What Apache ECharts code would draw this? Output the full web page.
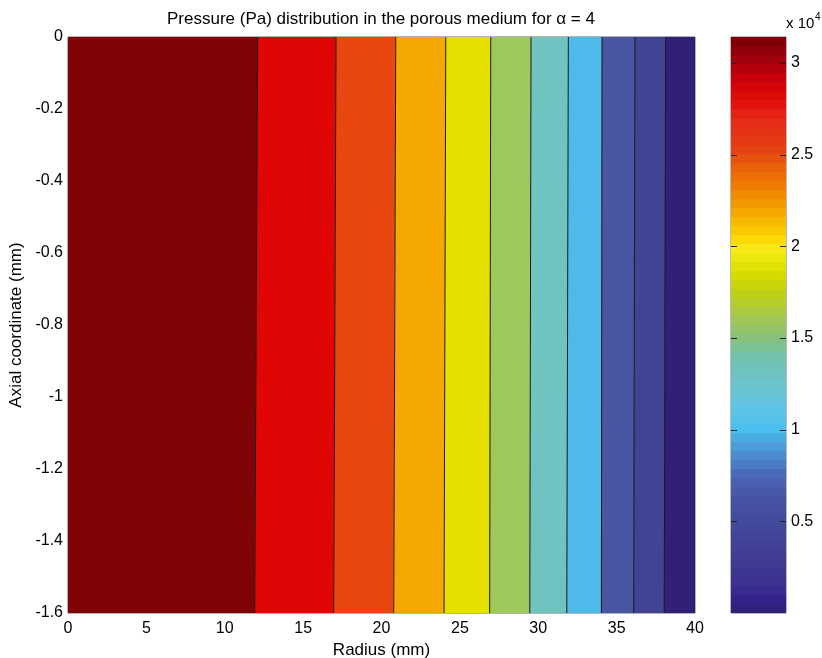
<!DOCTYPE html>
<html>
<head>
<meta charset="utf-8">
<script src="https://cdn.jsdelivr.net/npm/echarts@6/dist/echarts.min.js"></script>
<style>
  html, body { margin: 0; padding: 0; background: #ffffff; }
  #chart { width: 822px; height: 658px; }
</style>
</head>
<body>
<div id="chart"></div>
<script>
// ---- Data -------------------------------------------------------------
// Isobars (Pa), ordered from the axis (r = 0) outwards
const isobarLevels = [28560, 25704, 22848, 19992, 17136, 14280, 11424, 8568, 5712, 2856];
// Radius (mm) where each isobar meets the top face (z = 0)
const isobarRadiusTop = [12.10, 17.10, 20.91, 24.10, 26.97, 29.54, 31.92, 34.07, 36.17, 38.13];
// Radius (mm) where each isobar meets the bottom face (z = -1.6)
const isobarRadiusBottom = [11.91, 16.95, 20.78, 23.99, 26.90, 29.46, 31.82, 34.03, 36.09, 38.04];
// Domain of the porous medium
const radiusRange = [0, 40];       // mm
const axialRange = [-1.6, 0];      // mm
// Colour bar range, in units of 1e4 Pa
const pressureRange = [0, 3.1416];
const colorbarTicks = [0.5, 1, 1.5, 2, 2.5, 3];

// ---- Styles -----------------------------------------------------------
const FONT = '"Liberation Sans", Arial, Helvetica, sans-serif';
// Fill of each pressure band, from the axis outwards
const fillPalette = ['#7f0408', '#e00606', '#e8470f', '#f5a802', '#e6e000',
                     '#9fc85c', '#70c4bf', '#4fb9ea', '#4a55a4', '#414494', '#321f78'];
// Colour map anchors: [pressure (1e4 Pa), colour]
const colormapStops = [
  [0.00, '#302272'], [0.07, '#35208a'], [0.15, '#3c3290'], [0.30, '#403c92'],
  [0.50, '#434a9c'], [0.65, '#4a56a6'], [0.75, '#4a68b8'], [0.85, '#4c88cc'],
  [0.95, '#4aaae0'], [1.00, '#4abfef'], [1.10, '#5cc4e8'], [1.25, '#6cc4cc'],
  [1.40, '#72c2ae'], [1.50, '#88c07c'], [1.62, '#a5c850'], [1.75, '#c0d010'],
  [1.85, '#d6dc00'], [1.95, '#eeea10'], [2.00, '#fae81c'], [2.05, '#fdd400'],
  [2.15, '#f6b400'], [2.25, '#f29400'], [2.35, '#ee7804'], [2.45, '#e85c0c'],
  [2.55, '#e63c16'], [2.70, '#e52a18'], [2.80, '#e00e08'], [2.90, '#d00008'],
  [3.00, '#a8000e'], [3.08, '#8c000a'], [3.1416, '#780006']
];
const COLORMAP_STEPS = 64;

function hexToRgb(h) {
  return [parseInt(h.slice(1, 3), 16), parseInt(h.slice(3, 5), 16), parseInt(h.slice(5, 7), 16)];
}
function colormapAt(v) {
  for (let i = 1; i < colormapStops.length; i++) {
    const [v1, c1] = colormapStops[i];
    const [v0, c0] = colormapStops[i - 1];
    if (v <= v1 || i === colormapStops.length - 1) {
      const t = Math.max(0, Math.min(1, (v - v0) / (v1 - v0)));
      const a = hexToRgb(c0), b = hexToRgb(c1);
      const c = a.map((x, k) => Math.round(x + (b[k] - x) * t));
      return 'rgb(' + c.join(',') + ')';
    }
  }
}

// ---- Derived series data ---------------------------------------------
// One polygon per pressure band: [rLeftTop, rRightTop, rLeftBottom, rRightBottom, band]
const bandData = [];
for (let i = 0; i <= isobarLevels.length; i++) {
  const lt = i === 0 ? radiusRange[0] : isobarRadiusTop[i - 1];
  const lb = i === 0 ? radiusRange[0] : isobarRadiusBottom[i - 1];
  const rt = i === isobarLevels.length ? radiusRange[1] : isobarRadiusTop[i];
  const rb = i === isobarLevels.length ? radiusRange[1] : isobarRadiusBottom[i];
  bandData.push([lt, rt, lb, rb, i]);
}
const isobarData = isobarLevels.map((p, i) => [isobarRadiusTop[i], isobarRadiusBottom[i], p]);

// Colour bar cells: [lower value, upper value]
const colorbarCells = [];
const span = (pressureRange[1] - pressureRange[0]) / COLORMAP_STEPS;
for (let i = 0; i < COLORMAP_STEPS; i++) {
  colorbarCells.push([pressureRange[0] + i * span, pressureRange[0] + (i + 1) * span]);
}

// ---- Chart ------------------------------------------------------------
const chart = echarts.init(document.getElementById('chart'), null, { renderer: 'canvas' });

const labelStyle = { color: '#000', fontFamily: FONT, fontSize: 16 };
const nameStyle = { color: '#000', fontFamily: FONT, fontSize: 17 };
const TICK_LEN = 6;

const option = {
  animation: false,
  backgroundColor: '#ffffff',
  textStyle: { fontFamily: FONT },
  grid: [
    { left: 68, top: 37, width: 627, height: 576, show: true, containLabel: false,
      outerBoundsMode: 'none',
      borderColor: '#666', borderWidth: 1, backgroundColor: 'transparent' },
    { left: 731, top: 37, width: 55, height: 576, show: true, containLabel: false,
      outerBoundsMode: 'none',
      borderColor: '#777', borderWidth: 1, backgroundColor: 'transparent' }
  ],
  xAxis: [
    { gridIndex: 0, type: 'value', min: radiusRange[0], max: radiusRange[1], interval: 5,
      name: 'Radius (mm)', nameLocation: 'middle', nameGap: 29, nameTextStyle: nameStyle,
      axisLine: { show: false }, axisTick: { show: false }, splitLine: { show: false },
      axisLabel: Object.assign({ margin: 8 }, labelStyle) },
    { gridIndex: 1, type: 'value', min: 0, max: 1, show: false }
  ],
  yAxis: [
    { gridIndex: 0, type: 'value', min: axialRange[0], max: axialRange[1], interval: 0.2,
      name: 'Axial coordinate (mm)', nameLocation: 'middle', nameGap: 40, nameTextStyle: nameStyle,
      axisLine: { show: false }, axisTick: { show: false }, splitLine: { show: false },
      axisLabel: Object.assign({ margin: 5 }, labelStyle) },
    { gridIndex: 1, type: 'value', min: pressureRange[0], max: pressureRange[1], position: 'right',
      axisLine: { show: false }, splitLine: { show: false }, axisTick: { show: false },
      axisLabel: Object.assign({ margin: 5, customValues: colorbarTicks }, labelStyle) }
  ],
  graphic: [
    { type: 'text', x: 381, y: 19,
      style: { text: 'Pressure (Pa) distribution in the porous medium for \u03b1 = 4',
               fill: '#000', font: '17px ' + FONT, textAlign: 'center', textVerticalAlign: 'middle' } },
    { type: 'text', x: 786, y: 24,
      style: { text: 'x 10', fill: '#000', font: '15px ' + FONT, textAlign: 'left', textVerticalAlign: 'middle' } },
    { type: 'text', x: 815, y: 17,
      style: { text: '4', fill: '#000', font: '10px ' + FONT, textAlign: 'left', textVerticalAlign: 'middle' } }
  ],
  series: [
    { // pressure bands
      type: 'custom', xAxisIndex: 0, yAxisIndex: 0, clip: true, silent: true,
      data: bandData,
      renderItem: function (params, api) {
        const pts = [
          api.coord([api.value(0), axialRange[1]]),
          api.coord([api.value(1), axialRange[1]]),
          api.coord([api.value(3), axialRange[0]]),
          api.coord([api.value(2), axialRange[0]])
        ];
        const c = fillPalette[api.value(4)];
        return { type: 'polygon', shape: { points: pts },
                 style: { fill: c, stroke: c, lineWidth: 0.5 } };
      }
    },
    { // isobar lines
      type: 'custom', xAxisIndex: 0, yAxisIndex: 0, clip: true, silent: true,
      data: isobarData,
      renderItem: function (params, api) {
        const a = api.coord([api.value(0), axialRange[1]]);
        const b = api.coord([api.value(1), axialRange[0]]);
        return { type: 'line', shape: { x1: a[0], y1: a[1], x2: b[0], y2: b[1] },
                 style: { stroke: '#1a1a1a', lineWidth: 1 } };
      }
    },
    { // colour bar
      type: 'custom', xAxisIndex: 1, yAxisIndex: 1, clip: true, silent: true,
      data: colorbarCells,
      renderItem: function (params, api) {
        const lo = api.value(0), hi = api.value(1);
        const p0 = api.coord([0, hi]);
        const p1 = api.coord([1, lo]);
        const c = colormapAt((lo + hi) / 2);
        return { type: 'rect',
                 shape: { x: p0[0], y: p0[1], width: p1[0] - p0[0], height: p1[1] - p0[1] },
                 style: { fill: c, stroke: c, lineWidth: 0.5 } };
      }
    },
    { // colour bar tick marks on both edges, pointing inwards
      type: 'custom', xAxisIndex: 1, yAxisIndex: 1, clip: false, silent: true, z: 5,
      data: colorbarTicks.map(v => [v]),
      renderItem: function (params, api) {
        const l = api.coord([0, api.value(0)]);
        const r = api.coord([1, api.value(0)]);
        const y = Math.round(l[1]) + 0.5;
        const s = { stroke: '#222', lineWidth: 1 };
        return { type: 'group', children: [
          { type: 'line', shape: { x1: l[0], y1: y, x2: l[0] + TICK_LEN, y2: y }, style: s },
          { type: 'line', shape: { x1: r[0] - TICK_LEN, y1: y, x2: r[0], y2: y }, style: s }
        ] };
      }
    }
  ]
};

chart.setOption(option);
</script>
</body>
</html>
